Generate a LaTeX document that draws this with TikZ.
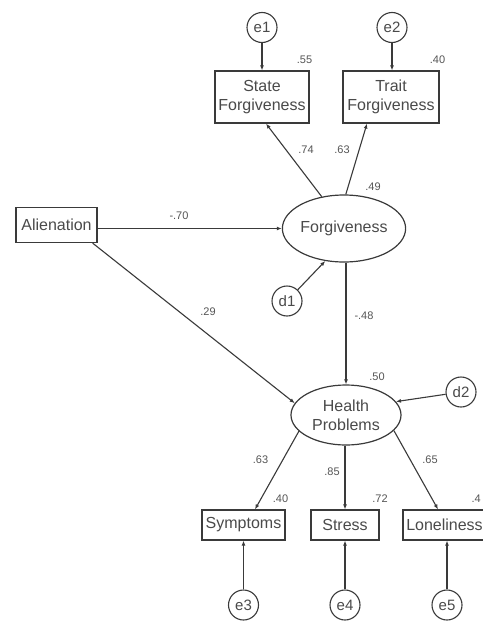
\documentclass[tikz,border=0pt]{standalone}
\usepackage{fontspec}
\setmainfont{Liberation Sans}
\usetikzlibrary{shapes.geometric,arrows.meta,calc}
\definecolor{linec}{HTML}{3A3A3A}
\definecolor{textc}{HTML}{4A4A4A}
\definecolor{labc}{HTML}{555555}
\begin{document}
\begin{tikzpicture}[x=1pt,y=-1pt,
  box/.style={draw=linec, line width=1.2pt, rectangle, inner sep=0pt, text=textc, align=center, font=\fontsize{16}{19}\selectfont},
  lat/.style={draw=linec, line width=1.2pt, ellipse, inner sep=0pt, text=textc, align=center, font=\fontsize{16}{19}\selectfont},
  err/.style={draw=linec, line width=1.1pt, circle, minimum size=30pt, inner sep=0pt, text=textc, font=\fontsize{15}{18}\selectfont},
  arr/.style={draw=linec, line width=1.1pt, -{Latex[length=5pt,width=4pt]}},
  lbl/.style={inner sep=0pt, text=labc, font=\fontsize{11}{13}\selectfont}]
\useasboundingbox[fill=white] (0,0) rectangle (482,621);

% nodes
\node[err] (e1) at (262,27.5) {e1};
\node[err] (e2) at (392,27.5) {e2};
\node[box, minimum width=94pt, minimum height=52pt] (SF) at (262,97) {State\\Forgiveness};
\node[box, minimum width=96pt, minimum height=52pt] (TF) at (391,97) {Trait\\Forgiveness};
\node[box, minimum width=81pt, minimum height=35pt] (A) at (56.5,225) {Alienation};
\node[lat, minimum width=107pt, minimum height=67pt] (F) at (344,228.5) {Forgiveness};
\node[err] (d1) at (287,301) {d1};
\node[lat, minimum width=110pt, minimum height=60pt] (HP) at (346,415) {Health\\Problems};
\node[err] (d2) at (461,392) {d2};
\node[box, minimum width=83pt, minimum height=30pt] (Sy) at (243.5,525) {Symptoms};
\node[box, minimum width=68pt, minimum height=30pt] (St) at (345,525) {Stress};
\node[box, minimum width=83pt, minimum height=30pt] (Lo) at (444.5,525) {Loneliness};
\node[err] (e3) at (243.5,605) {e3};
\node[err] (e4) at (345,605) {e4};
\node[err] (e5) at (447,605) {e5};

% connectors
\draw[arr] (e1.south) -- (e1.south |- SF.north);
\draw[arr] (e2.south) -- (e2.south |- TF.north);
\draw[arr] (F.125) -- ($(SF.south)+(4,0)$);
\draw[arr] (F.87) -- ($(TF.south)+(-24,0)$);
\draw[arr] (F.west -| A.east) -- (F.west);
\draw[arr] (d1) -- (F.240);
\draw[arr] ($(A.south east)+(-5,0)$) -- (HP.167);
\draw[arr] (HP.north |- F.south) -- (HP.north);
\draw[arr] (d2) -- (HP.15);
\draw[arr] (HP.199) -- ($(Sy.north)+(11.5,0)$);
\draw[arr] (HP.south -| St.north) -- (St.north);
\draw[arr] (HP.342) -- ($(Lo.north)+(-6.5,0)$);
\draw[arr] (e3.north) -- (e3.north |- Sy.south);
\draw[arr] (e4.north) -- (e4.north |- St.south);
\draw[arr] (e5.north) -- (e5.north |- Lo.south);

% labels
\node[lbl] (l55) at (304.5,60) {.55};
\node[lbl] (l40a) at (437.5,60) {.40};
\node[lbl] (l74) at (306,150) {.74};
\node[lbl] (l63a) at (342,150) {.63};
\node[lbl] (l49) at (373,187) {.49};
\node[lbl] (l70) at (179,216) {-.70};
\node[lbl] (l29) at (208,312) {.29};
\node[lbl] (l48) at (364,316) {-.48};
\node[lbl] (l50) at (377,377) {.50};
\node[lbl] (l63b) at (260.5,460) {.63};
\node[lbl] (l85) at (332,472) {.85};
\node[lbl] (l65) at (430,460) {.65};
\node[lbl] (l40b) at (280.5,499) {.40};
\node[lbl] (l72) at (380,499) {.72};
\node[lbl, anchor=east] (l4) at (481,499) {.4};
\end{tikzpicture}
\end{document}
